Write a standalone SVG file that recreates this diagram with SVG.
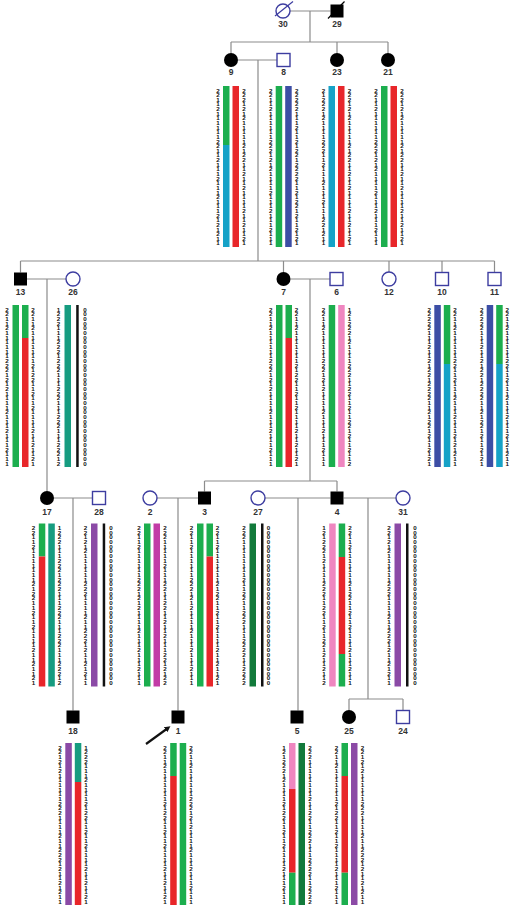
<svg xmlns="http://www.w3.org/2000/svg" width="512" height="909" viewBox="0 0 512 909">
<defs>
<style>
.ln{stroke:#8c8c8c;stroke-width:1.2;fill:none}
.aff{fill:#000}
.un{fill:#fff;stroke:#3d3da0;stroke-width:1.4}
.lb{font-family:"Liberation Sans",Arial,sans-serif;font-weight:bold;font-size:8.5px;fill:#333;text-anchor:middle}
.d{font-family:"Liberation Sans",Arial,sans-serif;font-weight:bold;font-size:6.2px;fill:#111;writing-mode:vertical-rl;text-orientation:upright}
.cg{fill:#1cae4e}.cr{fill:#e8262a}.cb{fill:#3c4ea5}.cc{fill:#16a2c7}.ct{fill:#169c80}
.cp{fill:#ef86c0}.cm{fill:#c23ca6}.cd{fill:#127a3b}.cu{fill:#8b4aa6}.ck{fill:#111}
</style>
<marker id="ah" markerWidth="6" markerHeight="6" refX="3" refY="3" orient="auto" markerUnits="userSpaceOnUse"><path d="M0,0 L6,3 L0,6 z" fill="#111"/></marker>
</defs>
<rect width="512" height="909" fill="#fff"/>
<g id="connectors">
<path class="ln" d="M290,11 H330.5 M310,11 V42 M231,42 H388 M231,42 V53 M337,42 V53 M388,42 V53"/>
<path class="ln" d="M238,60 H277 M258,60 V261 M20.5,261 H494.5 M20.5,261 V272.5 M283.5,261 V272 M389,261 V272 M442,261 V272.5 M494.5,261 V272.5"/>
<path class="ln" d="M27,279 H66 M47,279 V491 M290.5,279 H330 M310,279 V481 M204.5,481 H337 M204.5,481 V491.5 M337,481 V491.5"/>
<path class="ln" d="M54,498 H92.5 M73,498 V710.5 M157,498 H198 M178,498 V710.5 M265,498 H330.5 M298,498 V710.5 M343.5,498 H396 M368,498 V699 M349,699 H403 M349,699 V710 M403,699 V710.5"/>
<line x1="146" y1="744" x2="168" y2="728" stroke="#111" stroke-width="2.2" marker-end="url(#ah)"/>
</g>
<g id="n30"><circle class="un" cx="283" cy="11" r="7"/><line x1="275" y1="16" x2="293" y2="1.5" stroke="#3d3da0" stroke-width="1.2"/><text class="lb" x="283" y="27">30</text></g>
<g id="n29"><rect class="aff" x="330.5" y="4.5" width="13" height="13"/><line x1="328" y1="18.5" x2="344.5" y2="1.5" stroke="#000" stroke-width="1.2"/><text class="lb" x="337" y="27">29</text></g>

<g id="n9"><circle class="aff" cx="231" cy="60" r="7"/><text class="lb" x="231" y="75">9</text>
<rect class="cg" x="223" y="86" width="6.5" height="59"/><rect class="cc" x="223" y="145" width="6.5" height="102"/><rect class="cr" x="232.5" y="86" width="6.5" height="161"/>
<text class="d" x="218" y="86.5" textLength="160">2211211111122112111211121112121211</text>
<text class="d" x="244" y="86.5" textLength="160">2221212111112122112112111121121121</text></g>
<g id="n8"><rect class="un" x="277" y="53.5" width="13" height="13"/><text class="lb" x="283.5" y="75">8</text>
<rect class="cg" x="275.7" y="86" width="6.5" height="161"/><rect class="cb" x="285.2" y="86" width="6.5" height="161"/>
<text class="d" x="270.7" y="86.5" textLength="160">2211211111122212121111211121112111</text>
<text class="d" x="296.7" y="86.5" textLength="160">2222211121121221222211212212112121</text></g>
<g id="n23"><circle class="aff" cx="337" cy="60" r="7"/><text class="lb" x="337" y="75">23</text>
<rect class="cc" x="328.5" y="86" width="6.5" height="161"/><rect class="cr" x="338" y="86" width="6.5" height="161"/>
<text class="d" x="323.5" y="86.5" textLength="160">2122212111122211211121112111221211</text>
<text class="d" x="349.5" y="86.5" textLength="160">2221212111112122112112111121121121</text></g>
<g id="n21"><circle class="aff" cx="388" cy="60" r="7"/><text class="lb" x="388" y="75">21</text>
<rect class="cg" x="381" y="86" width="6.5" height="161"/><rect class="cr" x="390.5" y="86" width="6.5" height="161"/>
<text class="d" x="376" y="86.5" textLength="160">2211211111122212121111211121112111</text>
<text class="d" x="402" y="86.5" textLength="160">2221212111112122112112111121121121</text></g>

<g id="n13"><rect class="aff" x="14" y="272.5" width="13" height="13"/><text class="lb" x="20.5" y="295">13</text>
<rect class="cg" x="12.5" y="305" width="6.5" height="162"/><rect class="cg" x="22" y="305" width="6.5" height="33"/><rect class="cr" x="22" y="338" width="6.5" height="129"/>
<text class="d" x="7" y="305.5" textLength="161">2211211111122212121111211121112111</text>
<text class="d" x="33" y="305.5" textLength="161">2211211111112122112112111121121121</text></g>
<g id="n26"><circle class="un" cx="73" cy="279" r="7"/><text class="lb" x="73" y="295">26</text>
<rect class="ct" x="64.5" y="305" width="6.5" height="162"/><rect class="ck" x="76.2" y="305" width="2.5" height="162"/>
<text class="d" x="58.5" y="305.5" textLength="161">1222111222122211122211122211122212</text>
<text class="d" x="85" y="305.5" textLength="161">0000000000000000000000000000000000</text></g>
<g id="n7"><circle class="aff" cx="283.5" cy="279" r="7"/><text class="lb" x="283.5" y="295">7</text>
<rect class="cg" x="276" y="305" width="6.5" height="162"/><rect class="cg" x="285.5" y="305" width="6.5" height="33"/><rect class="cr" x="285.5" y="338" width="6.5" height="129"/>
<text class="d" x="270.7" y="305.5" textLength="161">2211211111122212121111211121112111</text>
<text class="d" x="296.5" y="305.5" textLength="161">2211211111112122112112111121121121</text></g>
<g id="n6"><rect class="un" x="330" y="272.5" width="13" height="13"/><text class="lb" x="336.5" y="295">6</text>
<rect class="cg" x="328.7" y="305" width="6.5" height="162"/><rect class="cp" x="338.2" y="305" width="6.5" height="162"/>
<text class="d" x="323.5" y="305.5" textLength="161">2211211111122212121111211121112111</text>
<text class="d" x="349.5" y="305.5" textLength="161">1212221211112221122112112212112112</text></g>
<g id="n12"><circle class="un" cx="389" cy="279" r="7"/><text class="lb" x="389" y="295">12</text></g>
<g id="n10"><rect class="un" x="435.5" y="272.5" width="13" height="13"/><text class="lb" x="442" y="295">10</text>
<rect class="cb" x="434.3" y="305" width="6.5" height="162"/><rect class="cg" x="443.8" y="305" width="6.5" height="59"/><rect class="cc" x="443.8" y="364" width="6.5" height="103"/>
<text class="d" x="429.3" y="305.5" textLength="161">2222211121121221222211212212112121</text>
<text class="d" x="455" y="305.5" textLength="161">2211211111122112111211121112121211</text></g>
<g id="n11"><rect class="un" x="488" y="272.5" width="13" height="13"/><text class="lb" x="494.5" y="295">11</text>
<rect class="cb" x="486.7" y="305" width="6.5" height="162"/><rect class="cg" x="496.2" y="305" width="6.5" height="59"/><rect class="cc" x="496.2" y="364" width="6.5" height="103"/>
<text class="d" x="481.7" y="305.5" textLength="161">2222211121121221222211212212112121</text>
<text class="d" x="507.2" y="305.5" textLength="161">2211211111122112111211121112121211</text></g>

<g id="n17"><circle class="aff" cx="47" cy="498" r="7"/><text class="lb" x="47" y="515">17</text>
<rect class="cg" x="38.8" y="523.5" width="6.5" height="33"/><rect class="cr" x="38.8" y="556.5" width="6.5" height="130"/><rect class="ct" x="48.3" y="523.5" width="6.5" height="163"/>
<text class="d" x="33.5" y="524" textLength="162">2211211111112122112112111121121121</text>
<text class="d" x="59.5" y="524" textLength="162">1222111222122211122211122211122212</text></g>
<g id="n28"><rect class="un" x="92.5" y="491.5" width="13" height="13"/><text class="lb" x="99" y="515">28</text>
<rect class="cu" x="91" y="523.5" width="6.5" height="163"/><rect class="ck" x="102.7" y="523.5" width="2.5" height="163"/>
<text class="d" x="85.5" y="524" textLength="162">2212121111112221111211222121121211</text>
<text class="d" x="111" y="524" textLength="162">0000000000000000000000000000000000</text></g>
<g id="n2"><circle class="un" cx="150" cy="498" r="7"/><text class="lb" x="150" y="515">2</text>
<rect class="cg" x="144" y="523.5" width="6.5" height="163"/><rect class="cm" x="153.5" y="523.5" width="6.5" height="163"/>
<text class="d" x="139" y="524" textLength="162">2211211111122212121111211121112111</text>
<text class="d" x="165" y="524" textLength="162">2221111121112211221121121112212122</text></g>
<g id="n3"><rect class="aff" x="198" y="491.5" width="13" height="13"/><text class="lb" x="204.5" y="515">3</text>
<rect class="cg" x="197" y="523.5" width="6.5" height="163"/><rect class="cg" x="206.5" y="523.5" width="6.5" height="33"/><rect class="cr" x="206.5" y="556.5" width="6.5" height="130"/>
<text class="d" x="191.5" y="524" textLength="162">2211211111122212121111211121112111</text>
<text class="d" x="217.5" y="524" textLength="162">2211211111112122112112111121121121</text></g>
<g id="n27"><circle class="un" cx="258" cy="498" r="7"/><text class="lb" x="258" y="515">27</text>
<rect class="cd" x="249.5" y="523.5" width="6.5" height="163"/><rect class="ck" x="261" y="523.5" width="2.5" height="163"/>
<text class="d" x="244" y="524" textLength="162">2221111111121122112221112222112222</text>
<text class="d" x="268.5" y="524" textLength="162">0000000000000000000000000000000000</text></g>
<g id="n4"><rect class="aff" x="330.5" y="491.5" width="13" height="13"/><text class="lb" x="337" y="515">4</text>
<rect class="cp" x="329.2" y="523.5" width="6.5" height="163"/><rect class="cg" x="338.7" y="523.5" width="6.5" height="33.5"/><rect class="cr" x="338.7" y="557" width="6.5" height="97"/><rect class="cg" x="338.7" y="654" width="6.5" height="32.5"/>
<text class="d" x="324" y="524" textLength="162">1212221211112221122112112212112112</text>
<text class="d" x="350" y="524" textLength="162">2211211111112122112112111121112111</text></g>
<g id="n31"><circle class="un" cx="403" cy="498" r="7"/><text class="lb" x="403" y="515">31</text>
<rect class="cu" x="394.5" y="523.5" width="6.5" height="163"/><rect class="ck" x="406" y="523.5" width="2.5" height="163"/>
<text class="d" x="389" y="524" textLength="162">2212121111112221111211222121121211</text>
<text class="d" x="415" y="524" textLength="162">0000000000000000000000000000000000</text></g>

<g id="n18"><rect class="aff" x="66.5" y="710.5" width="13" height="13"/><text class="lb" x="73" y="734">18</text>
<rect class="cu" x="65.3" y="743" width="6.5" height="162"/><rect class="ct" x="74.8" y="743" width="6.5" height="39"/><rect class="cr" x="74.8" y="782" width="6.5" height="123"/>
<text class="d" x="60" y="743.5" textLength="161">2212121111112221111211222121121211</text>
<text class="d" x="86" y="743.5" textLength="161">1222111211112122112112111121121121</text></g>
<g id="n1"><rect class="aff" x="171.5" y="710.5" width="13" height="13"/><text class="lb" x="178" y="734">1</text>
<rect class="cg" x="170.2" y="743" width="6.5" height="33"/><rect class="cr" x="170.2" y="776" width="6.5" height="129"/><rect class="cg" x="179.7" y="743" width="6.5" height="162"/>
<text class="d" x="165" y="743.5" textLength="161">2211211111112122112112111121121121</text>
<text class="d" x="191" y="743.5" textLength="161">2211211111122212121111211121112111</text></g>
<g id="n5"><rect class="aff" x="290.5" y="710.5" width="13" height="13"/><text class="lb" x="297" y="734">5</text>
<rect class="cp" x="289" y="743" width="6.5" height="46"/><rect class="cr" x="289" y="789" width="6.5" height="83.7"/><rect class="cg" x="289" y="872.7" width="6.5" height="32.3"/><rect class="cd" x="298.5" y="743" width="6.5" height="162"/>
<text class="d" x="284" y="743.5" textLength="161">1212221211112122112112111121112111</text>
<text class="d" x="310" y="743.5" textLength="161">2221111111121122112221112222112222</text></g>
<g id="n25"><circle class="aff" cx="349" cy="717" r="7"/><text class="lb" x="349" y="734">25</text>
<rect class="cg" x="341.5" y="743" width="6.5" height="33"/><rect class="cr" x="341.5" y="776" width="6.5" height="96.7"/><rect class="cg" x="341.5" y="872.7" width="6.5" height="32.3"/><rect class="cu" x="351" y="743" width="6.5" height="162"/>
<text class="d" x="336.5" y="743.5" textLength="161">2211211111112122112112111121112111</text>
<text class="d" x="362.5" y="743.5" textLength="161">2212121111112221111211222121121211</text></g>
<g id="n24"><rect class="un" x="396.5" y="710.5" width="13" height="13"/><text class="lb" x="403" y="734">24</text></g>
</svg>
